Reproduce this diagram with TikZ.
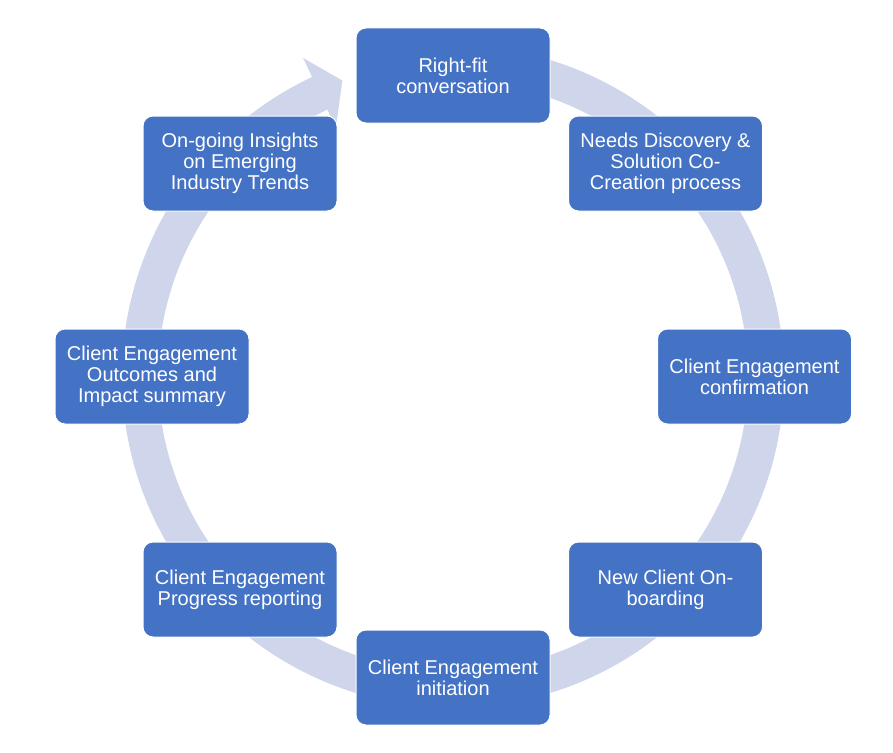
\documentclass[tikz,border=0pt]{standalone}
\usepackage{fontspec}
\setmainfont{Liberation Sans}
\usepackage{xcolor}
\usepackage{tikz}
\usetikzlibrary{positioning, calc}
\definecolor{StepBlue}{RGB}{68, 114, 196}
\definecolor{RingLavender}{RGB}{207, 213, 234}

\tikzset{
  stepbox/.style={
    fill=StepBlue,
    draw=white,
    line width=1pt,
    rounded corners=10pt,
    minimum width=194pt,
    minimum height=95pt,
    inner sep=2pt,
    align=center,
    text=white,
    font=\fontsize{20}{21}\selectfont
  }
}

\begin{document}
\begin{tikzpicture}[x=1pt, y=-1pt]
    \useasboundingbox (0,0) rectangle (893,752);
    \coordinate (hub) at (453,376.5);

    % ring with arrowhead behind the steps
    \begin{scope}[shift={(hub)}]
      \draw[RingLavender, line width=36pt] (100:313pt) arc[start angle=100, end angle=-245, radius=313pt];
      \fill[RingLavender] (115.2:352pt) -- (110.5:316pt) -- (115.2:275pt) -- cycle;
    \end{scope}

    % steps, clockwise from the top
    \node[stepbox] (fit)      at (453,75.5)    {Right-fit\\conversation};
    \node[stepbox] (discover) at (665.5,163.5) {Needs Discovery \&\\Solution Co-\\Creation process};
    \node[stepbox] (confirm)  at (754.5,376.5) {Client Engagement\\confirmation};
    \node[stepbox] (onboard)  at (665.5,589.5) {New Client On-\\boarding};
    \node[stepbox] (initiate) at (453,677.5)   {Client Engagement\\initiation};
    \node[stepbox] (progress) at (240,589.5)   {Client Engagement\\Progress reporting};
    \node[stepbox] (outcome)  at (152,376.5)   {Client Engagement\\Outcomes and\\Impact summary};
    \node[stepbox] (insight)  at (240,163.5)   {On-going Insights\\on Emerging\\Industry Trends};
  \end{tikzpicture}
\end{document}
